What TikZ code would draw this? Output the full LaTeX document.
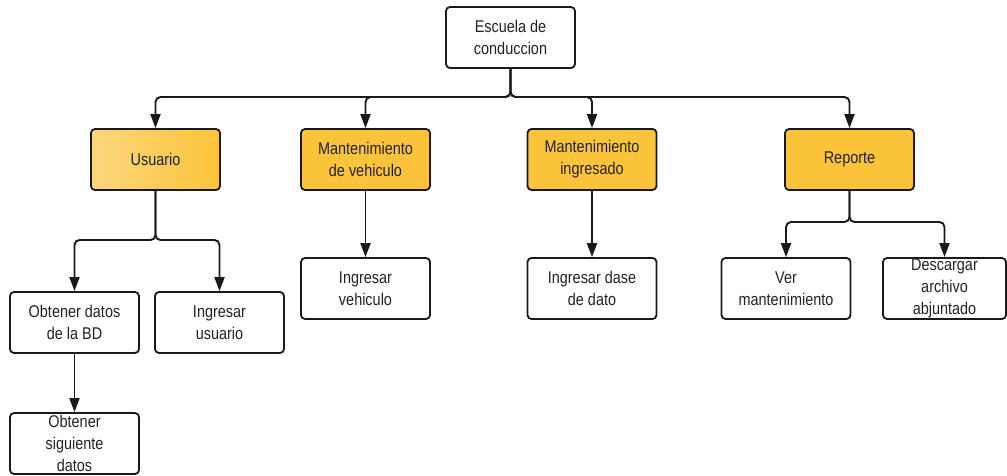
\documentclass[tikz,border=0pt]{standalone}
\usepackage{fontspec}
\setmainfont{Liberation Sans}[FakeStretch=0.85]
\usetikzlibrary{arrows.meta}
\definecolor{gold}{HTML}{FCC43A}
\definecolor{goldlight}{HTML}{FDD77E}
\definecolor{txt}{HTML}{222222}
\tikzset{
  box/.style={draw=black!90, line width=1.8pt, rounded corners=4pt, minimum width=129pt, minimum height=61pt, inner sep=0pt, align=center, text=txt, font=\fontsize{17}{22}\selectfont},
  hbox/.style={box, fill=gold},
  link/.style={line width=1.9pt, draw=black!90, rounded corners=5pt, -{Triangle[length=14pt,width=10pt]}},
}
\begin{document}
\begin{tikzpicture}[x=1pt,y=-1pt]
\useasboundingbox (0,0) rectangle (1007,475);
\node[box] (esc) at (510.5,37.5) {Escuela de\\conduccion};
\node[box, left color=goldlight, right color=gold] (usu) at (155.5,159.5) {Usuario};
\node[hbox] (mv) at (365.5,159.5) {Mantenimiento\\de vehiculo};
\node[hbox] (mi) at (592,159.5) {Mantenimiento\\ingresado};
\node[hbox] (rep) at (849.5,159.5) {Reporte};
\node[box] (iv) at (365.5,288.5) {Ingresar\\vehiculo};
\node[box] (idd) at (592,288.5) {Ingresar dase\\de dato};
\node[box] (ver) at (786,288.5) {Ver\\mantenimiento};
\node[box, minimum width=123pt] (desc) at (944.5,288.5) {Descargar\\archivo\\abjuntado};
\node[box] (obd) at (74.5,322.5) {Obtener datos\\de la BD};
\node[box] (ius) at (219.5,322.5) {Ingresar\\usuario};
\node[box] (osd) at (74.5,443.5) {Obtener\\siguiente\\datos};
\coordinate (b1) at (510.5,97);
\coordinate (b2) at (155.5,240);
\coordinate (b3) at (849.5,222);
\foreach \n in {usu,mv,mi,rep} \draw[link] (esc.south) -- (b1) -| (\n.north);
\foreach \n in {obd,ius} \draw[link] (usu.south) -- (b2) -| (\n.north);
\foreach \n in {ver,desc} \draw[link] (rep.south) -- (b3) -| (\n.north);
\draw[link] (mv.south) -- (iv.north);
\draw[link] (mi.south) -- (idd.north);
\draw[link] (obd.south) -- (osd.north);
\end{tikzpicture}
\end{document}
